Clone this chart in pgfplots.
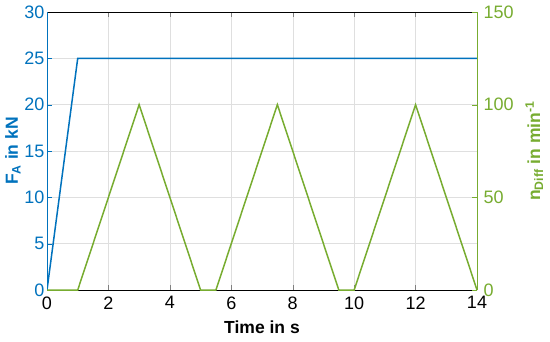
\documentclass[border=0pt]{standalone}
\usepackage{pgfplots}
\pgfplotsset{compat=1.18}
\usepackage{fontspec}
\setmainfont{Liberation Sans}
\definecolor{mblue}{RGB}{0,114,189}
\definecolor{mgreen}{RGB}{119,172,48}
\begin{document}
\begin{tikzpicture}
\pgfplotsset{
  every axis/.append style={
    scale only axis, width=430pt, height=278pt,
    xmin=0, xmax=14,
    tick align=inside,
    /pgf/number format/assume math mode=true,
    tick label style={font=\fontsize{18}{18}\selectfont},
    label style={font=\fontsize{17.5}{17.5}\selectfont\bfseries},
    major tick length=5pt,
  }
}
\begin{axis}[
  name=ax,
  ymin=0, ymax=30, ytick={0,5,...,30},
  xtick={0,2,...,14},
  grid=major, grid style={gray!25},
  axis y line*=left, axis x line*=box,
  y axis line style={mblue},
  ytick style={mblue},
  yticklabel style={mblue, xshift=1pt},
  xlabel={Time in s},
  ylabel={F\textsubscript{A} in kN},
  ylabel style={mblue, yshift=-3pt},
  xlabel style={yshift=-5pt},
  xticklabel style={yshift=-3pt},
]
\addplot[mblue, line width=1.5pt] coordinates {(0,0) (1,25) (14,25)};
\end{axis}
\begin{axis}[
  ymin=0, ymax=150, ytick={0,50,100,150},
  axis y line*=right, axis x line=none,
  y axis line style={mgreen},
  ytick style={mgreen},
  yticklabel style={mgreen, xshift=3pt},
  ylabel={n\textsubscript{Diff} in min\textsuperscript{-1}},
  ylabel style={mgreen, yshift=-5pt},
]
\addplot[mgreen, line width=1.5pt] coordinates {
  (0,0) (1,0) (3,100) (5,0) (5.5,0) (7.5,100) (9.5,0) (10,0) (12,100) (14,0)};
\end{axis}
\pgfresetboundingbox
\path[use as bounding box] ([xshift=-47pt,yshift=-51pt]ax.south west) rectangle ([xshift=73pt,yshift=12pt]ax.north east);
\end{tikzpicture}
\end{document}
